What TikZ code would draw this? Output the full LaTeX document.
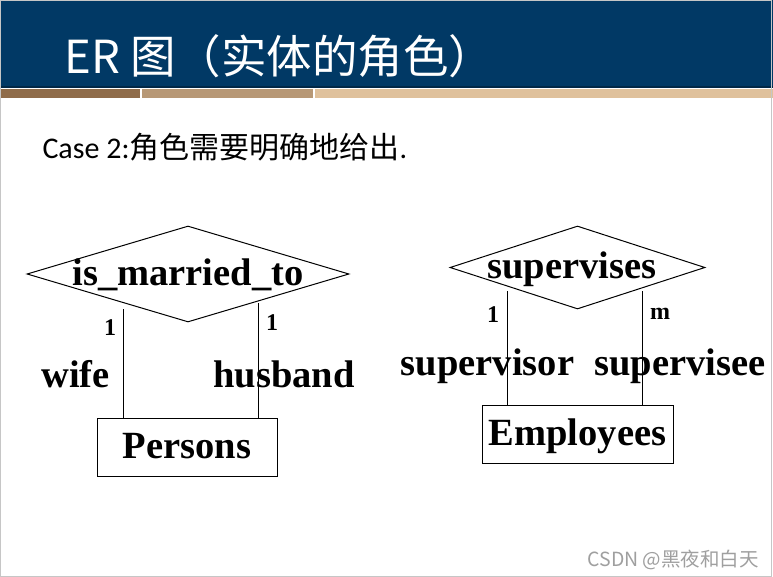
\documentclass[tikz,border=0pt]{standalone}
\usepackage{fontspec}
\setmainfont{Liberation Serif}
\newfontfamily\cjk{Noto Sans CJK SC}
\newfontfamily\calibri{Carlito}
\usetikzlibrary{shapes.geometric}
\usetikzlibrary{positioning}
\definecolor{titleblue}{RGB}{1,57,101}
\definecolor{stripeA}{RGB}{143,108,74}
\definecolor{stripeB}{RGB}{183,152,118}
\definecolor{stripeC}{RGB}{223,193,156}

\begin{document}
\begin{tikzpicture}[x=1pt, y=-1pt, line width=1pt,
	relation/.style = {diamond, draw, inner sep=0pt},
	entity/.style = {rectangle, draw, inner sep=0pt, minimum height=58pt, text height=40pt, text depth=18pt, font=\bfseries\fontsize{38.5}{38.5}\selectfont},
	bigtext/.style = {anchor=base, inner sep=0pt, font=\bfseries\fontsize{38.5}{38.5}\selectfont},
	card/.style = {anchor=base, inner sep=0pt, font=\bfseries\fontsize{24}{24}\selectfont}]
	\useasboundingbox (0,0) rectangle (773,577);
	% slide header
	\fill[titleblue] (0,0) rectangle (773,88);
	\fill[titleblue!70!black] (0,86) rectangle (773,88);
	\fill[stripeA] (0,89) rectangle (140,98);
	\fill[stripeB] (142,89) rectangle (313,98);
	\fill[stripeC] (315,89) rectangle (773,98);
	\node[anchor=base west, inner sep=0pt, text=white, font=\fontsize{45.5}{45.5}\selectfont] (title) at (64,74) {\cjk ER 图（实体的角色）};
	\node[anchor=base west, inner sep=0pt, font=\fontsize{30}{30}\selectfont] (case) at (42,159) {{\calibri Case 2:}{\cjk 角色需要明确地给出}{\calibri .}};
	% is_married_to
	\node[relation, minimum width=322pt, minimum height=96pt] (R1) at (188,274) {};
	\node[bigtext] (R1t) at (188,285) {is\_married\_to};
	\node[entity, minimum width=180pt] (P) at (187,447) {Persons};
	\coordinate (a1) at (123,309);
	\coordinate (b1) at (258,303);
	\draw (a1) -- (a1 |- P.north);
	\draw (b1) -- (b1 |- P.north);
	\node[card] (c1) at (110,335) {1};
	\node[card] (c2) at (272,330) {1};
	\node[bigtext] (wife) at (75.5,387) {wife};
	\node[bigtext] (husband) at (284,387) {husband};
	% supervises
	\node[relation, minimum width=255pt, minimum height=83pt] (R2) at (577.5,267.5) {};
	\node[bigtext] (R2t) at (572,278) {supervises};
	\node[entity, minimum width=191pt] (E) at (577.5,434) {Employees};
	\coordinate (a2) at (507,291);
	\coordinate (b2) at (642,291);
	\draw (a2) -- (a2 |- E.north);
	\draw (b2) -- (b2 |- E.north);
	\node[card] (c3) at (493,322) {1};
	\node[card] (c4) at (660,319) {m};
	\node[bigtext] (sor) at (487.5,375) {supervisor};
	\node[bigtext] (see) at (680,375) {supervisee};
	% frame and watermark
	\draw[gray!45] (0.5,0.5) rectangle (771.5,576.5);
	\node[anchor=base west, inner sep=0pt, text=gray!75, font=\fontsize{19.5}{19.5}\selectfont] (mark) at (587,566) {\cjk CSDN @黑夜和白天};
\end{tikzpicture}
\end{document}
